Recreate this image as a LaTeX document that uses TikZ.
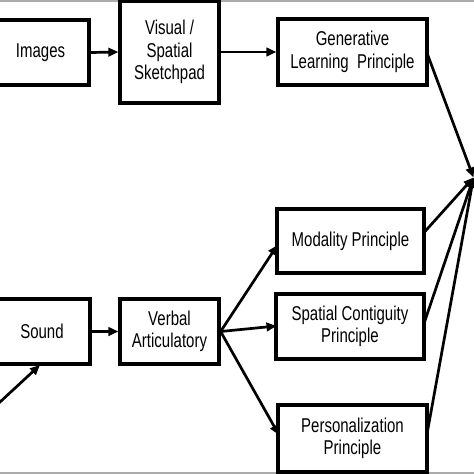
\documentclass[tikz,border=0pt]{standalone}
\usepackage{fontspec}
\setmainfont[FakeStretch=0.75]{Liberation Sans}
\usetikzlibrary{arrows.meta}
\begin{document}
\begin{tikzpicture}[x=1pt,y=-1pt,
  box/.style={draw=black,line width=3.2pt,fill=white,inner sep=0pt,align=center,
    font=\fontsize{20}{22.5}\selectfont},
  arr/.style={line width=2.7pt,-{Triangle[length=10pt,width=8.5pt]}},
  ln/.style={line width=2.7pt}]
\useasboundingbox (0,0) rectangle (474,474);
\clip (0,0) rectangle (474,474);
\fill[white] (0,0) rectangle (474,474);
\fill[black!33] (0,0) rectangle (474,2.2);
\fill[black!33] (0,471.8) rectangle (474,474);
% nodes
\node[box,minimum width=97pt,minimum height=65pt] (img) at (40.5,52.5) {Images};
\node[box,minimum width=99pt,minimum height=102pt] (vis) at (169.5,52) {Visual /\\Spatial\\Sketchpad};
\node[box,minimum width=149pt,minimum height=66pt] (gen) at (352.5,52) {Generative\\Learning\ \ Principle};
\node[box,minimum width=96pt,minimum height=65pt] (snd) at (42,331.5) {Sound};
\node[box,minimum width=99pt,minimum height=65pt] (vrb) at (169.5,331.5) {Verbal\\Articulatory};
\node[box,minimum width=147pt,minimum height=64pt] (mod) at (350.5,241) {Modality Principle};
\node[box,minimum width=148pt,minimum height=65pt] (spc) at (350,326.5) {Spatial Contiguity\\Principle};
\node[box,minimum width=149pt,minimum height=67pt] (per) at (352.5,438.5) {Personalization\\Principle};
\coordinate (conv) at (473.5,177.5);
\coordinate (src) at (-20,420.5);
\coordinate (sndin) at (40,365);
% connectors
\draw[arr] (img.east) -- (vis.west);
\draw[arr] (vis.east) -- (gen.west);
\draw[arr] (snd.east) -- (vrb.west);
\draw[arr] (src) -- (sndin);
\draw[arr] (vrb.east) -- (277.5,245);
\draw[arr] (vrb.east) -- (276.5,326);
\draw[arr] (vrb.east) -- (279,435);
\draw[arr] (427,53) -- (conv);
\draw[arr] (424.5,232) -- (conv);
\draw[arr] (424.5,322) -- (conv);
\draw[arr] (427,434) -- (conv);
\end{tikzpicture}
\end{document}
